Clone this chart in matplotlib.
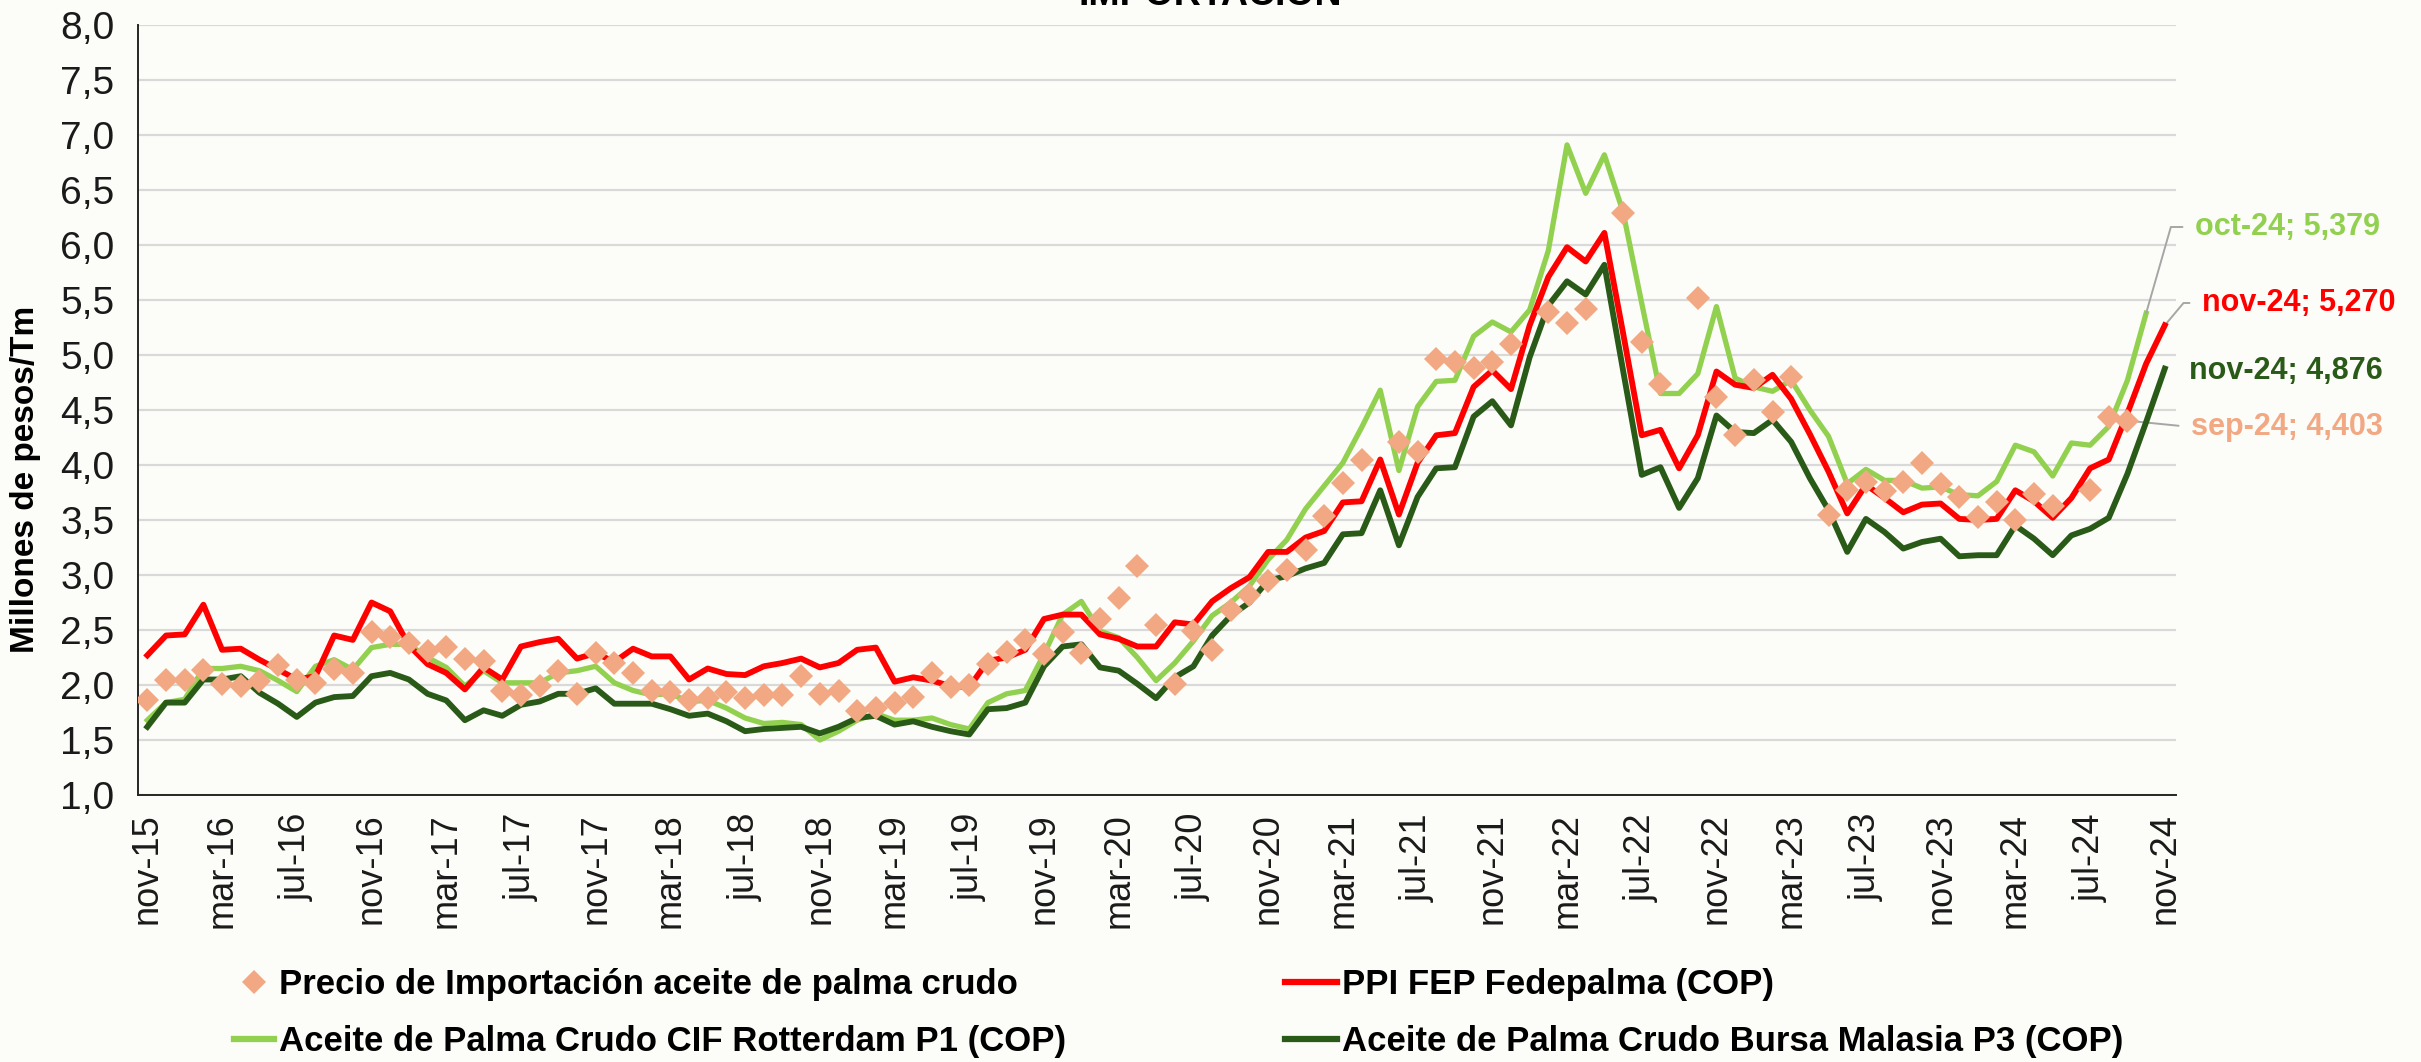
import numpy as np
import matplotlib
matplotlib.use("Agg")
import matplotlib.pyplot as plt
from matplotlib.lines import Line2D

# Datos (millones de pesos / Tm), mensual desde nov-15 hasta nov-24
meses = np.arange(109)

precio_importacion = [
    1.86, 2.05, 2.05, 2.14, 2.01, 1.99, 2.04, 2.18, 2.05, 2.02, 2.15, 2.11,
    2.48, 2.44, 2.38, 2.31, 2.35, 2.24, 2.22, 1.95, 1.91, 1.99, 2.13, 1.92,
    2.29, 2.20, 2.11, 1.95, 1.94, 1.86, 1.88, 1.94, 1.88, 1.91, 1.91, 2.08,
    1.92, 1.95, 1.76, 1.79, 1.84, 1.89, 2.11, 1.98, 2.00, 2.19, 2.30, 2.41,
    2.28, 2.48, 2.29, 2.60, 2.79, 3.08, 2.55, 2.01, 2.49, 2.32, 2.68, 2.82,
    2.95, 3.05, 3.23, 3.54, 3.84, 4.05, np.nan, 4.21, 4.12, 4.96, 4.94, 4.88,
    4.94, 5.10, np.nan, 5.39, 5.29, 5.42, np.nan, 6.29, 5.12, 4.74, np.nan, 5.52,
    4.62, 4.27, 4.77, 4.48, 4.80, np.nan, 3.55, 3.77, 3.85, 3.76, 3.85, 4.02,
    3.83, 3.71, 3.53, 3.66, 3.50, 3.74, 3.63, np.nan, 3.77, 4.44, 4.403,
]

ppi_fedepalma = [
    2.27, 2.45, 2.46, 2.73, 2.32, 2.33, 2.23, 2.14, 2.05, 2.08, 2.45, 2.41,
    2.75, 2.67, 2.36, 2.19, 2.11, 1.96, 2.16, 2.05, 2.35, 2.39, 2.42, 2.24,
    2.29, 2.21, 2.33, 2.26, 2.26, 2.05, 2.15, 2.10, 2.09, 2.17, 2.20, 2.24,
    2.16, 2.20, 2.32, 2.34, 2.03, 2.07, 2.04, 1.99, 1.98, 2.22, 2.25, 2.32,
    2.60, 2.64, 2.64, 2.46, 2.42, 2.35, 2.35, 2.57, 2.55, 2.76, 2.88, 2.98,
    3.21, 3.21, 3.34, 3.40, 3.66, 3.67, 4.05, 3.55, 4.02, 4.27, 4.29, 4.71,
    4.86, 4.69, 5.27, 5.71, 5.98, 5.85, 6.11, 5.20, 4.27, 4.32, 3.97, 4.27,
    4.85, 4.73, 4.70, 4.82, 4.60, 4.28, 3.94, 3.56, 3.82, 3.70, 3.57, 3.64,
    3.65, 3.51, 3.50, 3.51, 3.77, 3.67, 3.52, 3.70, 3.97, 4.05, 4.47, 4.92,
    5.270,
]

cif_rotterdam = [
    1.68, 1.84, 1.87, 2.15, 2.15, 2.17, 2.13, 2.04, 1.94, 2.17, 2.23, 2.14,
    2.34, 2.37, 2.37, 2.25, 2.16, 1.99, 2.13, 2.02, 2.02, 2.02, 2.11, 2.13,
    2.17, 2.02, 1.95, 1.91, 1.92, 1.85, 1.86, 1.79, 1.70, 1.65, 1.66, 1.64,
    1.50, 1.58, 1.68, 1.74, 1.68, 1.68, 1.70, 1.64, 1.60, 1.84, 1.92, 1.95,
    2.28, 2.64, 2.76, 2.49, 2.43, 2.25, 2.04, 2.20, 2.40, 2.63, 2.75, 2.90,
    3.14, 3.32, 3.60, 3.81, 4.02, 4.34, 4.68, 3.95, 4.53, 4.76, 4.77, 5.17,
    5.30, 5.21, 5.41, 5.95, 6.91, 6.47, 6.82, 6.30, 5.47, 4.65, 4.65, 4.83,
    5.44, 4.79, 4.71, 4.67, 4.77, 4.50, 4.26, 3.83, 3.96, 3.86, 3.86, 3.79,
    3.80, 3.73, 3.72, 3.85, 4.18, 4.12, 3.90, 4.20, 4.18, 4.35, 4.77, 5.379,
]

bursa_malasia = [
    1.62, 1.84, 1.84, 2.05, 2.05, 2.08, 1.93, 1.83, 1.71, 1.84, 1.89, 1.90,
    2.08, 2.11, 2.05, 1.92, 1.86, 1.68, 1.77, 1.72, 1.82, 1.85, 1.92, 1.92,
    1.97, 1.83, 1.83, 1.83, 1.78, 1.72, 1.74, 1.67, 1.58, 1.60, 1.61, 1.62,
    1.56, 1.62, 1.70, 1.72, 1.64, 1.67, 1.62, 1.58, 1.55, 1.78, 1.79, 1.84,
    2.17, 2.35, 2.37, 2.16, 2.13, 2.01, 1.88, 2.07, 2.17, 2.45, 2.63, 2.75,
    2.95, 2.99, 3.06, 3.11, 3.37, 3.38, 3.77, 3.27, 3.71, 3.97, 3.98, 4.44,
    4.58, 4.36, 4.98, 5.45, 5.67, 5.55, 5.82, 4.86, 3.91, 3.98, 3.61, 3.88,
    4.45, 4.30, 4.29, 4.41, 4.21, 3.88, 3.59, 3.21, 3.51, 3.39, 3.24, 3.30,
    3.33, 3.17, 3.18, 3.18, 3.45, 3.33, 3.18, 3.36, 3.42, 3.52, 3.92, 4.39,
    4.876,
]

etiquetas_x = ["nov-15", "mar-16", "jul-16", "nov-16", "mar-17", "jul-17", "nov-17",
               "mar-18", "jul-18", "nov-18", "mar-19", "jul-19", "nov-19", "mar-20",
               "jul-20", "nov-20", "mar-21", "jul-21", "nov-21", "mar-22", "jul-22",
               "nov-22", "mar-23", "jul-23", "nov-23", "mar-24", "jul-24", "nov-24"]
valores_y = [1.0, 1.5, 2.0, 2.5, 3.0, 3.5, 4.0, 4.5, 5.0, 5.5, 6.0, 6.5, 7.0, 7.5, 8.0]

c_precio = "#F2A882"
c_ppi = "#FF0000"
c_cif = "#92D050"
c_bursa = "#2A5A18"
fondo = "#FCFCF8"

def coma(v):
    return f"{v:.3f}".replace(".", ",")

plt.rcParams["font.family"] = ["Liberation Sans", "DejaVu Sans"]

fig = plt.figure(figsize=(24.21, 10.62), dpi=100, facecolor=fondo)
ax = fig.add_axes([138 / 2421, 1 - 795 / 1062, (2176 - 138) / 2421, (795 - 25) / 1062])
ax.set_facecolor(fondo)

ax.plot(meses[:len(cif_rotterdam)], cif_rotterdam, color=c_cif, lw=3.8, zorder=3)
ax.plot(meses, ppi_fedepalma, color=c_ppi, lw=4.2, zorder=4)
ax.plot(meses, bursa_malasia, color=c_bursa, lw=4.2, zorder=4)
ax.plot(meses[:len(precio_importacion)], precio_importacion, linestyle="none", marker="D",
        markersize=12.5, color=c_precio, markeredgewidth=0, zorder=5)

ax.set_xlim(-0.5, 108.6)
ax.set_ylim(1.0, 8.0)
ax.set_yticks(valores_y)
ax.set_yticklabels([f"{v:.1f}".replace(".", ",") for v in valores_y], fontsize=28)
ax.set_xticks(meses[::4])
ax.set_xticklabels(etiquetas_x, rotation=90, fontsize=26)
ax.tick_params(axis="both", length=0, colors="#1a1a1a")
ax.tick_params(axis="y", pad=17)
ax.tick_params(axis="x", pad=13)
ax.grid(axis="y", color="#D9D9D9", lw=1.6, zorder=0)
ax.set_axisbelow(True)
for s in ["top", "right"]:
    ax.spines[s].set_visible(False)
for s in ["left", "bottom"]:
    ax.spines[s].set_color("#262626")
    ax.spines[s].set_linewidth(1.4)

fig.text(26 / 2421, 1 - 479 / 1062, "Millones de pesos/Tm", rotation=90, ha="center", va="center",
         fontsize=24, fontweight="bold")
fig.text(1210 / 2421, 1 - 5 / 1062, "IMPORTACIÓN", ha="center", va="baseline",
         fontsize=27, fontweight="bold")

# Etiquetas de los últimos datos
lider = dict(arrowstyle="-", color="#A6A6A6", lw=1.4, shrinkA=9, shrinkB=0, patchA=None)
ax.annotate(f"oct-24; {coma(cif_rotterdam[-1])}", xy=(107, cif_rotterdam[-1]),
            xytext=(2195, 1062 - 227), textcoords="figure pixels", va="center", ha="left",
            fontsize=22, fontweight="bold", color=c_cif, annotation_clip=False,
            arrowprops=dict(lider, relpos=(0, 0.5), connectionstyle="angle,angleA=0,angleB=74,rad=0"))
ax.annotate(f"nov-24; {coma(ppi_fedepalma[-1])}", xy=(108, ppi_fedepalma[-1]),
            xytext=(2202, 1062 - 303), textcoords="figure pixels", va="center", ha="left",
            fontsize=22, fontweight="bold", color=c_ppi, annotation_clip=False,
            arrowprops=dict(lider, relpos=(0, 0.5), connectionstyle="angle,angleA=0,angleB=50,rad=0"))
ax.annotate(f"nov-24; {coma(bursa_malasia[-1])}", xy=(108, bursa_malasia[-1]),
            xytext=(2189, 1062 - 371), textcoords="figure pixels", va="center", ha="left",
            fontsize=22, fontweight="bold", color=c_bursa, annotation_clip=False)
ax.annotate(f"sep-24; {coma(precio_importacion[-1])}", xy=(106, precio_importacion[-1]),
            xytext=(2191, 1062 - 427), textcoords="figure pixels", va="center", ha="left",
            fontsize=22, fontweight="bold", color=c_precio, annotation_clip=False,
            arrowprops=dict(lider, relpos=(0, 0.5)))

# Leyenda en dos columnas
fuente_ley = {"family": ["Liberation Sans Narrow", "Liberation Sans"], "weight": "bold", "size": 25}
h_precio = Line2D([], [], linestyle="none", marker="D", markersize=12, color=c_precio, markeredgewidth=0)
h_ppi = Line2D([], [], color=c_ppi, lw=4.5)
h_cif = Line2D([], [], color=c_cif, lw=4.5)
h_bursa = Line2D([], [], color=c_bursa, lw=4.5)
fig.legend([h_precio, h_cif], ["Precio de Importación aceite de palma crudo",
                              "Aceite de Palma Crudo CIF Rotterdam P1 (COP)"],
           loc="center left", bbox_to_anchor=(234 / 2421, 1 - 1013 / 1062), frameon=False,
           prop=fuente_ley, handlelength=1.15, handletextpad=0.15, labelspacing=0.7,
           borderpad=0, borderaxespad=0)
fig.legend([h_ppi, h_bursa], ["PPI FEP Fedepalma (COP)",
                              "Aceite de Palma Crudo Bursa Malasia P3 (COP)"],
           loc="center left", bbox_to_anchor=(1285 / 2421, 1 - 1013 / 1062), frameon=False,
           prop=fuente_ley, handlelength=1.5, handletextpad=0.15, labelspacing=0.7,
           borderpad=0, borderaxespad=0)

fig.savefig("out.png", dpi=100, facecolor=fondo)
